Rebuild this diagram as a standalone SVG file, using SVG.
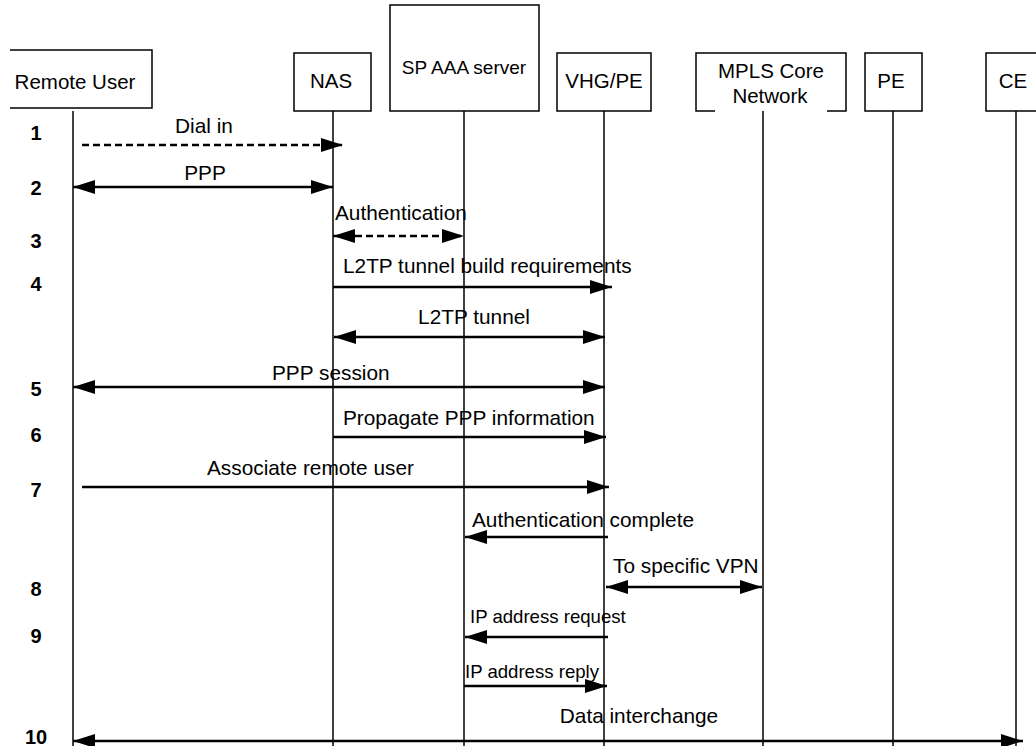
<svg xmlns="http://www.w3.org/2000/svg" width="1036" height="746" viewBox="0 0 1036 746">
<style>
.box{fill:#fff;stroke:#000;stroke-width:1.5}
.life{stroke:#000;stroke-width:1.5;fill:none}
.lbl{font-family:"Liberation Sans",Arial,sans-serif;font-size:20.5px;fill:#000}
.msg{font-family:"Liberation Sans",Arial,sans-serif;font-size:20.8px;fill:#000}
.sm{font-family:"Liberation Sans",Arial,sans-serif;font-size:18.6px;fill:#000}
.num{font-family:"Liberation Sans",Arial,sans-serif;font-size:20px;font-weight:bold;fill:#000;text-anchor:middle}
.arr{stroke:#000;stroke-width:2.5;fill:none;marker-end:url(#ah)}
.dbl{stroke:#000;stroke-width:2.5;fill:none;marker-end:url(#ah);marker-start:url(#ah)}
.dash{stroke-dasharray:7 4}
</style>
<defs>
<marker id="ah" markerUnits="userSpaceOnUse" markerWidth="23" markerHeight="14" refX="22" refY="7" orient="auto-start-reverse" viewBox="0 0 23 14">
<path d="M0,0 L22,7 L0,14 z" fill="#000"/>
</marker>
</defs>
<rect width="1036" height="746" fill="#fff"/>
<g id="lifelines">
<line class="life" x1="73" y1="111" x2="73" y2="746"/>
<line class="life" x1="333" y1="111" x2="333" y2="746"/>
<line class="life" x1="464" y1="111" x2="464" y2="746"/>
<line class="life" x1="604" y1="111" x2="604" y2="746"/>
<line class="life" x1="763" y1="111" x2="763" y2="746"/>
<line class="life" x1="893" y1="111" x2="893" y2="746"/>
<line class="life" x1="1016" y1="111" x2="1016" y2="746"/>
</g>
<g id="remote-user">
<path d="M10,50 H152 V108 H10" fill="#fff" stroke="#000" stroke-width="1.5"/>
<text class="lbl" x="75" y="89" text-anchor="middle">Remote User</text>
</g>
<g id="nas">
<rect class="box" x="294" y="53" width="77" height="58"/>
<text class="lbl" x="331" y="88" text-anchor="middle">NAS</text>
</g>
<g id="sp-aaa">
<rect class="box" x="390" y="5" width="149" height="106"/>
<text class="lbl" x="464" y="74" text-anchor="middle" style="font-size:19px">SP AAA server</text>
</g>
<g id="vhg-pe">
<rect class="box" x="557" y="53" width="94" height="58"/>
<text class="lbl" x="604" y="88" text-anchor="middle">VHG/PE</text>
</g>
<g id="mpls">
<path d="M715,111 H696 V53 H846 V111 H827" fill="#fff" stroke="#000" stroke-width="1.5"/>
<text class="lbl" x="771" y="78" text-anchor="middle">MPLS Core</text>
<text class="lbl" x="770" y="103" text-anchor="middle">Network</text>
</g>
<g id="pe">
<rect class="box" x="865" y="53" width="57" height="58"/>
<text class="lbl" x="891" y="88" text-anchor="middle">PE</text>
</g>
<g id="ce">
<rect class="box" x="986" y="53" width="60" height="58"/>
<text class="lbl" x="1013" y="88" text-anchor="middle">CE</text>
</g>
<g id="steps">
<text class="num" x="36" y="140">1</text>
<text class="num" x="36" y="195">2</text>
<text class="num" x="36" y="248">3</text>
<text class="num" x="36" y="291">4</text>
<text class="num" x="36" y="396">5</text>
<text class="num" x="36" y="442">6</text>
<text class="num" x="36" y="497">7</text>
<text class="num" x="36" y="596">8</text>
<text class="num" x="36" y="643">9</text>
<text class="num" x="36" y="744">10</text>
</g>
<g id="connectors">
<line class="arr dash" x1="82" y1="145" x2="343" y2="145"/>
<line class="dbl" x1="73" y1="187" x2="333" y2="187"/>
<line class="dbl dash" x1="333" y1="236" x2="464" y2="236"/>
<line class="arr" x1="333" y1="287" x2="612" y2="287"/>
<line class="dbl" x1="334" y1="337" x2="605" y2="337"/>
<line class="dbl" x1="73" y1="387" x2="605" y2="387"/>
<line class="arr" x1="333" y1="437" x2="606" y2="437"/>
<line class="arr" x1="82" y1="487" x2="609" y2="487"/>
<line class="arr" x1="608" y1="537" x2="465" y2="537"/>
<line class="dbl" x1="606" y1="587" x2="762" y2="587"/>
<line class="arr" x1="608" y1="637" x2="465" y2="637"/>
<line class="arr" x1="464" y1="686" x2="607" y2="686"/>
<line class="dbl" x1="73" y1="741" x2="1023" y2="741"/>
</g>
<g id="labels">
<text class="msg" x="204" y="133" text-anchor="middle">Dial in</text>
<text class="msg" x="205" y="180" text-anchor="middle">PPP</text>
<text class="msg" x="335" y="220">Authentication</text>
<text class="msg" x="343" y="273">L2TP tunnel build requirements</text>
<text class="msg" x="474" y="324" text-anchor="middle">L2TP tunnel</text>
<text class="msg" x="272" y="380">PPP session</text>
<text class="msg" x="343" y="425">Propagate PPP information</text>
<text class="msg" x="207" y="475">Associate remote user</text>
<text class="msg" x="472" y="527">Authentication complete</text>
<text class="msg" x="613" y="573">To specific VPN</text>
<text class="sm" x="470" y="623">IP address request</text>
<text class="sm" x="465" y="678">IP address reply</text>
<text class="msg" x="639" y="723" text-anchor="middle">Data interchange</text>
</g>
</svg>
